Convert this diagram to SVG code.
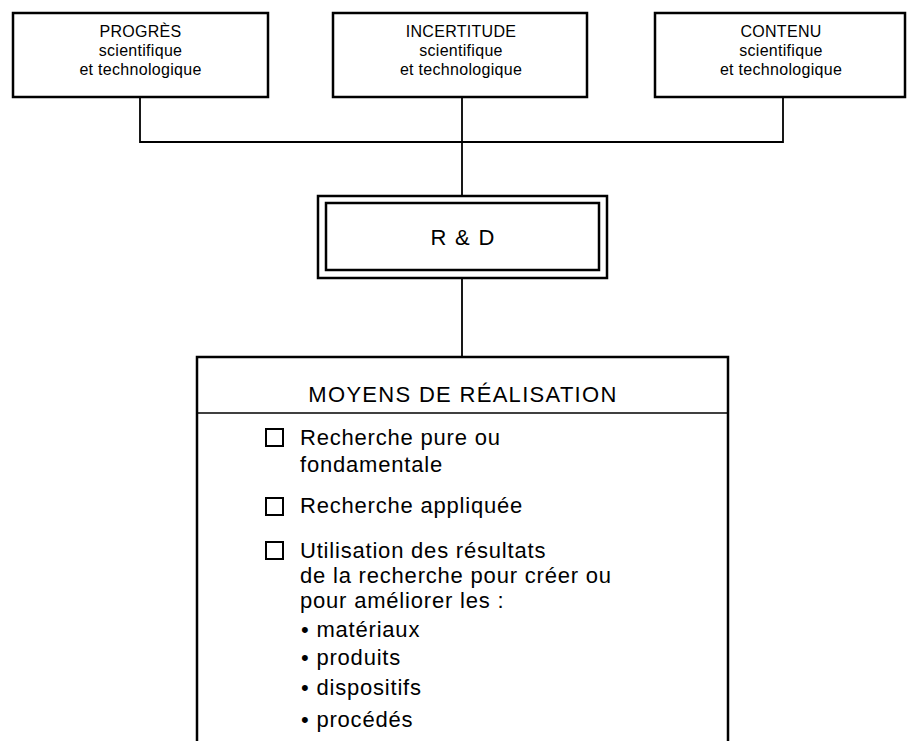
<svg xmlns="http://www.w3.org/2000/svg" width="913" height="741" viewBox="0 0 913 741">
<style>
text{font-family:"Liberation Sans",Arial,Helvetica,sans-serif;fill:#000}
.box{fill:#fff;stroke:#000;stroke-width:2.5}
.sm{font-size:16px;letter-spacing:0.3px;text-anchor:middle}
.big{font-size:22px;letter-spacing:1.3px;text-anchor:middle}
.it{font-size:22px;letter-spacing:0.8px}
.cb{fill:none;stroke:#000;stroke-width:2}
.con{fill:none;stroke:#000;stroke-width:1.8}
</style>
<rect width="913" height="741" fill="#fff"/>
<g id="connectors">
<path class="con" d="M140,97 V142 H783 V97 M462,97 V196 M462,278 V357"/>
</g>
<g id="progres">
<rect class="box" x="13" y="13" width="255" height="84"/>
<text class="sm" x="140.5" y="37">PROGRÈS</text>
<text class="sm" x="140.5" y="56">scientifique</text>
<text class="sm" x="140.5" y="75">et technologique</text>
</g>
<g id="incertitude">
<rect class="box" x="333" y="13" width="254" height="84"/>
<text class="sm" x="461" y="37">INCERTITUDE</text>
<text class="sm" x="461" y="56">scientifique</text>
<text class="sm" x="461" y="75">et technologique</text>
</g>
<g id="contenu">
<rect class="box" x="655" y="13" width="250" height="84"/>
<text class="sm" x="781" y="37">CONTENU</text>
<text class="sm" x="781" y="56">scientifique</text>
<text class="sm" x="781" y="75">et technologique</text>
</g>
<g id="rd">
<rect class="box" x="318" y="196" width="289" height="82"/>
<rect class="box" x="326" y="203" width="273" height="67"/>
<text class="big" x="463" y="245">R &amp; D</text>
</g>
<g id="moyens">
<path fill="#fff" stroke="#000" stroke-width="2.5" d="M197,745 V357 H728 V745"/>
<line x1="197" y1="413" x2="728" y2="413" stroke="#000" stroke-width="1.5"/>
<text class="big" x="463" y="402">MOYENS DE RÉALISATION</text>
<rect class="cb" x="266" y="429" width="17" height="17"/>
<text class="it" x="300" y="445">Recherche pure ou</text>
<text class="it" x="300" y="472">fondamentale</text>
<rect class="cb" x="266" y="498" width="17" height="17"/>
<text class="it" x="300" y="513">Recherche appliquée</text>
<rect class="cb" x="266" y="542" width="17" height="17"/>
<text class="it" x="300" y="558">Utilisation des résultats</text>
<text class="it" x="300" y="583">de la recherche pour créer ou</text>
<text class="it" x="300" y="608">pour améliorer les :</text>
<text class="it" x="301" y="637">• matériaux</text>
<text class="it" x="301" y="665">• produits</text>
<text class="it" x="301" y="695">• dispositifs</text>
<text class="it" x="301" y="727">• procédés</text>
</g>
</svg>
